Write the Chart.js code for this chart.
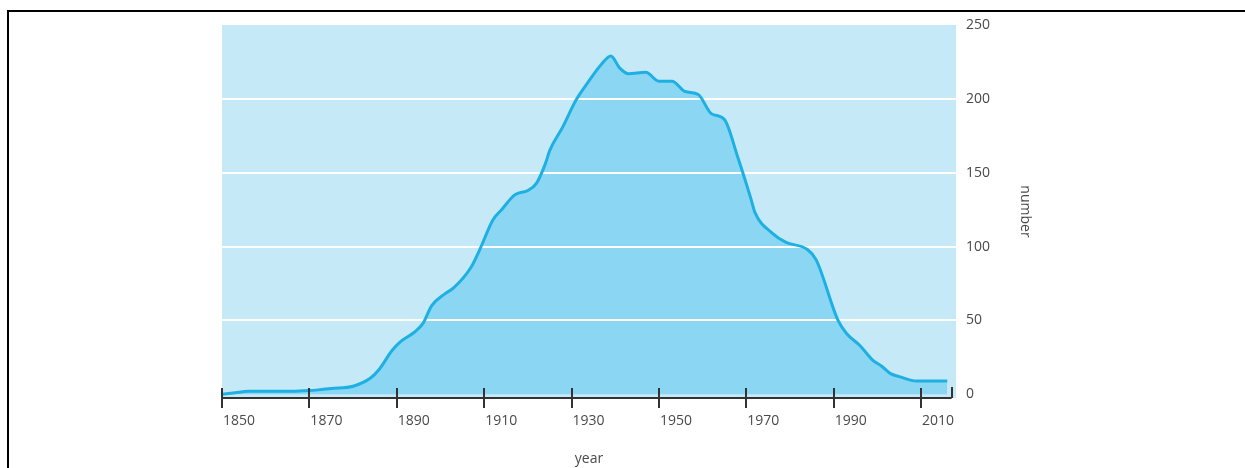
<!DOCTYPE html>
<html>
<head>
<meta charset="utf-8">
<script src="https://cdn.jsdelivr.net/npm/chart.js@4.4.1/dist/chart.umd.min.js"></script>
<style>
    html, body { margin: 0; padding: 0; background: #fff; }
    #wrap { position: relative; width: 1245px; height: 468px; overflow: hidden; }
    #frame {
        position: absolute; left: 7px; top: 10px; right: -10px; bottom: -10px;
        border-top: 2px solid #000; border-left: 2px solid #000;
        pointer-events: none;
    }
    canvas { position: absolute; left: 0; top: 0; }
</style>
</head>
<body>
<div id="wrap">
    <canvas id="grafico" width="1245" height="468"></canvas>
    <div id="frame"></div>
</div>
<script>
// Valores
const anos = [
    1850, 1853, 1856, 1860, 1866, 1870, 1872, 1875, 1880, 1884,
    1886, 1889, 1891, 1894, 1896, 1898, 1901, 1903, 1907, 1909,
    1912, 1914, 1917, 1920, 1922, 1924, 1925, 1928, 1931, 1933,
    1937, 1939, 1941, 1943, 1947, 1950, 1953, 1956, 1959, 1962,
    1965, 1968, 1971, 1972, 1976, 1979, 1984, 1986, 1991, 1993,
    1996, 1999, 2001, 2003, 2005, 2009, 2016
];
const quantidades = [
    0, 1, 2, 2, 2, 2.5, 3, 4, 5.5, 11,
    17, 30, 36, 42, 48, 60, 68, 72, 86, 98,
    118, 125, 135, 138, 143, 156, 165, 181, 199, 208,
    224, 229, 221, 217, 218, 212, 212, 205, 203, 190,
    186, 161, 133, 123, 109, 103, 98, 91, 50, 41,
    33, 23, 19, 14, 12, 9, 9
];
const ticksAno = [1850, 1870, 1890, 1910, 1930, 1950, 1970, 1990, 2010];
const ticksNumero = [0, 50, 100, 150, 200, 250];

const corFundo = '#c6e9f8';
const corArea = '#8bd6f3';
const corLinha = '#1eb0e2';
const corTexto = '#4a4a4a';
const corEixo = '#333333';

const pontos = anos.map((a, i) => ({ x: a, y: quantidades[i] }));

// fundo azul claro da area do grafico
const fundoPlugin = {
    id: 'fundo',
    beforeDraw(chart) {
        const { ctx, chartArea } = chart;
        ctx.save();
        ctx.fillStyle = corFundo;
        ctx.fillRect(chartArea.left, chartArea.top, chartArea.right - chartArea.left, chartArea.bottom - chartArea.top);
        ctx.restore();
    }
};

// linhas brancas por cima da area, mas por baixo da linha
const gradePlugin = {
    id: 'grade',
    beforeDatasetDraw(chart, args) {
        if (args.index !== 0) return;
        const { ctx, chartArea } = chart;
        const y = chart.scales.y;
        ctx.save();
        ctx.strokeStyle = '#ffffff';
        ctx.lineWidth = 2;
        ticksNumero.forEach(v => {
            if (v === 0 || v === 250) return;
            const py = Math.round(y.getPixelForValue(v));
            ctx.beginPath();
            ctx.moveTo(chartArea.left, py);
            ctx.lineTo(chartArea.right, py);
            ctx.stroke();
        });
        ctx.restore();
    }
};

// eixo x com as marcas atravessando a linha
const eixoPlugin = {
    id: 'eixo',
    afterDatasetsDraw(chart) {
        const { ctx, chartArea } = chart;
        const x = chart.scales.x;
        const base = chartArea.bottom;
        ctx.save();
        ctx.strokeStyle = corEixo;
        ctx.lineWidth = 2;
        ctx.beginPath();
        ctx.moveTo(chartArea.left, base);
        ctx.lineTo(x.getPixelForValue(2017), base);
        ctx.stroke();
        ticksAno.forEach(a => {
            const px = Math.round(x.getPixelForValue(a));
            ctx.beginPath();
            ctx.moveTo(px, base - 10);
            ctx.lineTo(px, base + 10);
            ctx.stroke();
        });
        const fim = Math.round(x.getPixelForValue(2017));
        ctx.beginPath();
        ctx.moveTo(fim, base - 11);
        ctx.lineTo(fim, base);
        ctx.stroke();
        ctx.restore();
    }
};

function desenharGrafico() {
    const ctx = document.getElementById('grafico').getContext('2d');
    const fonte = { family: '"Open Sans", "Liberation Sans", sans-serif', size: 14 };

    new Chart(ctx, {
        type: 'line',
        data: {
            datasets: [
                {
                    data: pontos,
                    fill: 'origin',
                    backgroundColor: corArea,
                    borderWidth: 0,
                    pointRadius: 0,
                    tension: 0.3,
                    cubicInterpolationMode: 'monotone',
                    order: 2
                },
                {
                    data: pontos,
                    fill: false,
                    borderColor: corLinha,
                    borderWidth: 3,
                    pointRadius: 0,
                    tension: 0.3,
                    cubicInterpolationMode: 'monotone',
                    order: 1
                }
            ]
        },
        options: {
            responsive: false,
            animation: false,
            layout: { padding: { left: 222, right: 212, top: 25, bottom: 0 } },
            plugins: {
                legend: { display: false },
                tooltip: { enabled: false }
            },
            scales: {
                x: {
                    type: 'linear',
                    min: 1850,
                    max: 2018,
                    grid: { display: false, drawTicks: false },
                    border: { display: false },
                    afterBuildTicks: scale => { scale.ticks = ticksAno.map(v => ({ value: v })); },
                    afterFit: scale => { scale.height = 70; },
                    ticks: {
                        font: fonte,
                        color: corTexto,
                        padding: 15,
                        labelOffset: 17,
                        maxRotation: 0,
                        callback: v => String(v)
                    },
                    title: {
                        display: true,
                        text: 'year',
                        font: fonte,
                        color: corTexto,
                        padding: { top: 0, bottom: 1 }
                    }
                },
                y: {
                    position: 'right',
                    min: -2.5,
                    max: 250,
                    grid: { display: false, drawTicks: false },
                    border: { display: false },
                    afterBuildTicks: scale => { scale.ticks = ticksNumero.map(v => ({ value: v })); },
                    afterFit: scale => { scale.width = 77; },
                    ticks: {
                        font: fonte,
                        color: corTexto,
                        padding: 10
                    },
                    title: {
                        display: true,
                        text: 'number',
                        font: fonte,
                        color: corTexto,
                        padding: { top: 0, bottom: 0 }
                    }
                }
            }
        },
        plugins: [fundoPlugin, gradePlugin, eixoPlugin]
    });
}

desenharGrafico();
</script>
</body>
</html>
